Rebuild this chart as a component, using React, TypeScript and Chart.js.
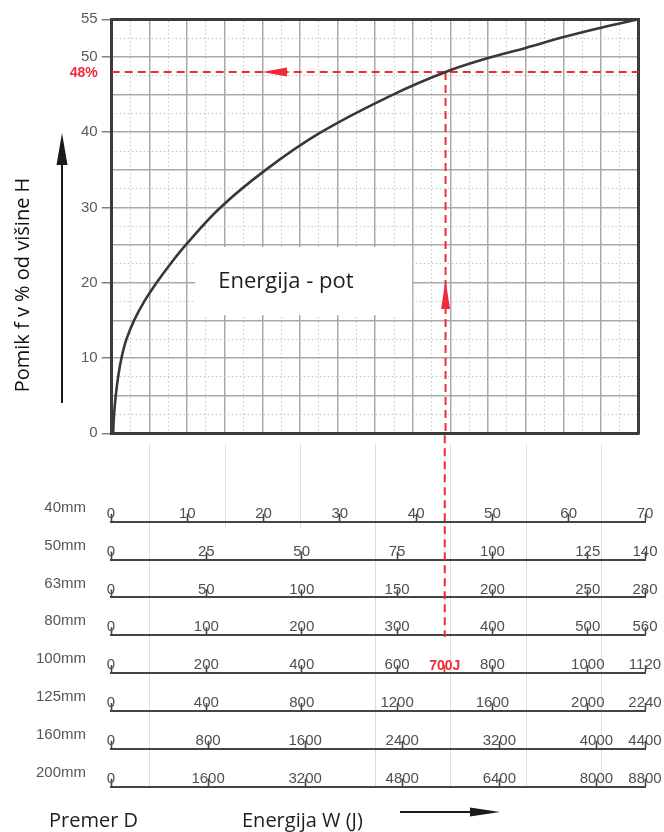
import React, { useEffect, useRef } from 'react';
import { Chart, registerables } from 'chart.js';

Chart.register(...registerables);

// ---------- data ----------
// curve: energy (J, read on the 100mm scale) vs displacement (% of height H)
const curveEnergyJ = [3, 5, 8.5, 13.5, 20.5, 31, 47, 68, 94, 123, 155, 228, 323, 439, 590, 700, 784, 868, 952, 1028, 1105];
const curveDisplacementPct = [0, 2.5, 5, 7.5, 10, 12.5, 15, 17.5, 20, 22.5, 25, 30, 35, 40, 45, 48, 49.75, 51.2, 52.7, 53.9, 55];

const plotEnergyMax = 1105; // right edge of the grid, in J (100mm scale)
const gridColumns = 14;
const yMajorTicks = [0, 5, 10, 15, 20, 25, 30, 35, 40, 45, 50, 55];
const yMinorTicks = [2.5, 7.5, 12.5, 17.5, 22.5, 27.5, 32.5, 37.5, 42.5, 47.5, 52.5];
const yTickLabels = [0, 10, 20, 30, 40, 50, 55];

const readEnergyJ = 700;
const readPct = 48;

const diameters = ['40mm', '50mm', '63mm', '80mm', '100mm', '125mm', '160mm', '200mm'];
const energyTicks: number[][] = [
  [0, 10, 20, 30, 40, 50, 60, 70],
  [0, 25, 50, 75, 100, 125, 140],
  [0, 50, 100, 150, 200, 250, 280],
  [0, 100, 200, 300, 400, 500, 560],
  [0, 200, 400, 600, 700, 800, 1000, 1120],
  [0, 400, 800, 1200, 1600, 2000, 2240],
  [0, 800, 1600, 2400, 3200, 4000, 4400],
  [0, 1600, 3200, 4800, 6400, 8000, 8800],
];
const markedRow = '100mm';

const boxLabel = 'Energija - pot';
const yTitle = 'Pomik f v % od višine H';
const rowTitle = 'Premer D';
const energyTitle = 'Energija W (J)';

// ---------- styles ----------
const RED = '#ef2b3a';
const FRAME = '#3b3b3b';
const GRID = '#a9a9a9';
const MINOR = '#c6c6c6';
const NUM_FONT = "'Liberation Sans', Arial, sans-serif";
const TXT_FONT = "'Open Sans', 'Noto Sans', sans-serif";

function triangle(ctx: CanvasRenderingContext2D, pts: number[][], color: string) {
  ctx.save();
  ctx.fillStyle = color;
  ctx.beginPath();
  ctx.moveTo(pts[0][0], pts[0][1]);
  ctx.lineTo(pts[1][0], pts[1][1]);
  ctx.lineTo(pts[2][0], pts[2][1]);
  ctx.closePath();
  ctx.fill();
  ctx.restore();
}

export default function App() {
  const topRef = useRef<HTMLCanvasElement>(null);
  const botRef = useRef<HTMLCanvasElement>(null);

  useEffect(() => {
    const majorX = Array.from({ length: gridColumns + 1 }, (_, i) => (plotEnergyMax * i) / gridColumns);
    const minorX = Array.from({ length: gridColumns }, (_, i) => (plotEnergyMax * (i + 0.5)) / gridColumns);

    const overlayA = {
      id: 'overlayA',
      beforeDatasetsDraw(chart: any) {
        const { ctx, scales } = chart;
        const x1 = scales.x.getPixelForValue(175);
        const x2 = scales.x.getPixelForValue(630);
        const y1 = scales.y.getPixelForValue(24.75);
        const y2 = scales.y.getPixelForValue(15.7);
        ctx.save();
        ctx.fillStyle = '#ffffff';
        ctx.fillRect(x1, y1, x2 - x1, y2 - y1);
        ctx.fillStyle = '#1e1e1e';
        ctx.font = `22px ${TXT_FONT}`;
        ctx.textAlign = 'left';
        ctx.textBaseline = 'alphabetic';
        ctx.fillText(boxLabel, x1 + 23, y1 + 41);
        ctx.restore();
      },
      afterDatasetsDraw(chart: any) {
        const { ctx, scales, chartArea } = chart;
        const yr = scales.y.getPixelForValue(readPct);
        const xr = scales.x.getPixelForValue(readEnergyJ);
        const tipX = scales.x.getPixelForValue(315);
        triangle(ctx, [[tipX, yr], [tipX + 25, yr - 4.5], [tipX + 25, yr + 4.5]], RED);
        const tipY = scales.y.getPixelForValue(20.35);
        triangle(ctx, [[xr, tipY], [xr - 4.5, tipY + 29], [xr + 4.5, tipY + 29]], RED);
        ctx.save();
        ctx.fillStyle = RED;
        ctx.font = `bold 14px ${NUM_FONT}`;
        ctx.textAlign = 'right';
        ctx.textBaseline = 'middle';
        ctx.fillText(`${readPct}%`, chartArea.left - 14, yr + 1);
        ctx.restore();
      },
      afterDraw(chart: any) {
        const { ctx } = chart;
        ctx.save();
        ctx.translate(28.5, 285);
        ctx.rotate(-Math.PI / 2);
        ctx.fillStyle = '#111';
        ctx.font = `20px ${TXT_FONT}`;
        ctx.textAlign = 'center';
        ctx.textBaseline = 'alphabetic';
        ctx.fillText(yTitle, 0, 0);
        ctx.restore();
        ctx.save();
        ctx.strokeStyle = '#1a1a1a';
        ctx.lineWidth = 2;
        ctx.beginPath();
        ctx.moveTo(62, 403);
        ctx.lineTo(62, 160);
        ctx.stroke();
        ctx.restore();
        triangle(ctx, [[62, 133], [56.5, 165], [67.5, 165]], '#1a1a1a');
      },
    };

    const chartA = new Chart(topRef.current as HTMLCanvasElement, {
      type: 'scatter',
      data: {
        datasets: [
          {
            data: curveEnergyJ.map((x, i) => ({ x, y: curveDisplacementPct[i] })),
            showLine: true,
            borderColor: '#383838',
            borderWidth: 2.6,
            pointRadius: 0,
            tension: 0.4,
            fill: false,
          },
          {
            data: [{ x: 0, y: readPct }, { x: plotEnergyMax, y: readPct }],
            showLine: true,
            borderColor: RED,
            borderWidth: 2,
            borderDash: [8, 5],
            pointRadius: 0,
          },
          {
            data: [{ x: readEnergyJ, y: readPct }, { x: readEnergyJ, y: 0 }],
            showLine: true,
            borderColor: RED,
            borderWidth: 2,
            borderDash: [8, 5],
            pointRadius: 0,
          },
        ],
      } as any,
      options: {
        animation: false,
        responsive: false,
        events: [],
        layout: { padding: { left: 0, top: 19.3, right: 25.3, bottom: 398.7 } },
        plugins: { legend: { display: false }, tooltip: { enabled: false } },
        scales: {
          x: {
            type: 'linear',
            position: 'bottom',
            min: 0,
            max: plotEnergyMax,
            afterBuildTicks: (s: any) => { s.ticks = majorX.map((v) => ({ value: v })); },
            afterFit: (s: any) => { s.height = 0; },
            ticks: { display: false },
            grid: { color: GRID, lineWidth: 1.5, drawTicks: false },
            border: { color: FRAME, width: 3 },
          },
          xMinor: {
            type: 'linear',
            axis: 'x',
            position: 'top',
            min: 0,
            max: plotEnergyMax,
            afterBuildTicks: (s: any) => { s.ticks = minorX.map((v) => ({ value: v })); },
            afterFit: (s: any) => { s.height = 0; },
            ticks: { display: false },
            grid: { color: MINOR, lineWidth: 1, drawTicks: false },
            border: { color: FRAME, width: 3, dash: [1.5, 2.5] },
          },
          y: {
            type: 'linear',
            position: 'left',
            min: 0,
            max: 55,
            afterBuildTicks: (s: any) => { s.ticks = yMajorTicks.map((v) => ({ value: v })); },
            afterFit: (s: any) => { s.width = 111.7; },
            ticks: {
              autoSkip: false,
              padding: 4,
              color: '#5a5a5a',
              font: { family: NUM_FONT, size: 15 },
              callback: (v: any) => (yTickLabels.includes(Number(v)) ? String(v) : ''),
            },
            grid: {
              color: GRID,
              lineWidth: 1.5,
              tickLength: 10,
              tickWidth: 1.5,
              tickColor: (c: any) => (c.tick && yTickLabels.includes(c.tick.value) ? '#808080' : 'rgba(0,0,0,0)'),
            },
            border: { color: FRAME, width: 3 },
          },
          yMinor: {
            type: 'linear',
            axis: 'y',
            position: 'right',
            min: 0,
            max: 55,
            afterBuildTicks: (s: any) => { s.ticks = yMinorTicks.map((v) => ({ value: v })); },
            afterFit: (s: any) => { s.width = 0; },
            ticks: { display: false },
            grid: { color: MINOR, lineWidth: 1, drawTicks: false },
            border: { color: FRAME, width: 3, dash: [1.5, 2.5] },
          },
        },
      } as any,
      plugins: [overlayA],
    });

    // ---------- bottom chart: energy scales per diameter ----------
    const rowH = 37.86;
    const rowScales: any = { y: { display: false, min: 0, max: 1 } };
    diameters.forEach((d, i) => {
      const ticks = energyTicks[i];
      const marked = d === markedRow;
      rowScales['row' + i] = {
        type: 'linear',
        axis: 'x',
        position: 'top',
        weight: diameters.length - i,
        min: 0,
        max: ticks[ticks.length - 1],
        afterBuildTicks: (s: any) => { s.ticks = ticks.map((v) => ({ value: v })); },
        afterFit: (s: any) => { s.height = rowH; },
        ticks: {
          autoSkip: false,
          maxRotation: 0,
          minRotation: 0,
          padding: -9,
          color: (c: any) => (marked && c.tick && c.tick.value === readEnergyJ ? RED : '#4f4f4f'),
          font: (c: any) =>
            marked && c.tick && c.tick.value === readEnergyJ
              ? { family: NUM_FONT, size: 14, weight: 'bold' }
              : { family: NUM_FONT, size: 15 },
          callback: (v: any) => (marked && Number(v) === readEnergyJ ? `${v}J` : String(v)),
        },
        grid: {
          drawOnChartArea: false,
          drawTicks: true,
          tickLength: 8,
          tickWidth: 1.6,
          tickColor: (c: any) => (marked && c.tick && c.tick.value === readEnergyJ ? RED : '#444'),
        },
        border: { display: true, color: '#444', width: 2 },
      };
    });

    const overlayB = {
      id: 'overlayB',
      beforeDraw(chart: any) {
        const { ctx } = chart;
        const xs = chartA.scales.x as any;
        const topY = chartA.chartArea.bottom + 11;
        const lastRow = chart.scales['row' + (diameters.length - 1)];
        const firstRow = chart.scales.row0;
        ctx.save();
        ctx.strokeStyle = '#dedede';
        ctx.lineWidth = 1;
        majorX.forEach((v, i) => {
          if (i % 2 === 0) return;
          const px = Math.round(xs.getPixelForValue(v)) + 0.5;
          const endY = i === 3 || i === 5 ? firstRow.bottom + 6 : lastRow.bottom;
          ctx.beginPath();
          ctx.moveTo(px, topY);
          ctx.lineTo(px, endY);
          ctx.stroke();
        });
        ctx.restore();
      },
      afterDraw(chart: any) {
        const { ctx } = chart;
        const markIdx = diameters.indexOf(markedRow);
        const rs = chart.scales['row' + markIdx];
        const xr = rs.getPixelForValue(readEnergyJ);
        ctx.save();
        ctx.strokeStyle = RED;
        ctx.lineWidth = 2;
        ctx.setLineDash([8, 5]);
        ctx.beginPath();
        ctx.moveTo(xr, chartA.chartArea.bottom + 2);
        ctx.lineTo(xr, rs.bottom - 36);
        ctx.stroke();
        ctx.restore();
        ctx.save();
        ctx.fillStyle = '#555';
        ctx.font = `15px ${NUM_FONT}`;
        ctx.textAlign = 'right';
        ctx.textBaseline = 'middle';
        diameters.forEach((d, i) => {
          const s = chart.scales['row' + i];
          ctx.fillText(d, 86, s.bottom - 14);
        });
        ctx.restore();
        ctx.save();
        ctx.fillStyle = '#1e1e1e';
        ctx.font = `20px ${TXT_FONT}`;
        ctx.textAlign = 'left';
        ctx.textBaseline = 'alphabetic';
        ctx.fillText(rowTitle, 49, 827);
        ctx.fillText(energyTitle, 242, 827);
        ctx.strokeStyle = '#1a1a1a';
        ctx.lineWidth = 2;
        ctx.beginPath();
        ctx.moveTo(400, 812);
        ctx.lineTo(474, 812);
        ctx.stroke();
        ctx.restore();
        triangle(ctx, [[500, 812], [470, 807.5], [470, 816.5]], '#1a1a1a');
      },
    };

    const chartB = new Chart(botRef.current as HTMLCanvasElement, {
      type: 'scatter',
      data: { datasets: [] },
      options: {
        animation: false,
        responsive: false,
        events: [],
        layout: { padding: { left: 111, right: 19, top: 786.7 - diameters.length * rowH, bottom: 41 } },
        plugins: { legend: { display: false }, tooltip: { enabled: false } },
        scales: rowScales,
      } as any,
      plugins: [overlayB],
    });

    return () => {
      chartB.destroy();
      chartA.destroy();
    };
  }, []);

  return (
    <div style={{ position: 'absolute', left: 0, top: 0, width: 664, height: 832, background: '#fff' }}>
      <canvas ref={topRef} width={664} height={832} style={{ position: 'absolute', left: 0, top: 0 }} />
      <canvas ref={botRef} width={664} height={832} style={{ position: 'absolute', left: 0, top: 0 }} />
    </div>
  );
}
